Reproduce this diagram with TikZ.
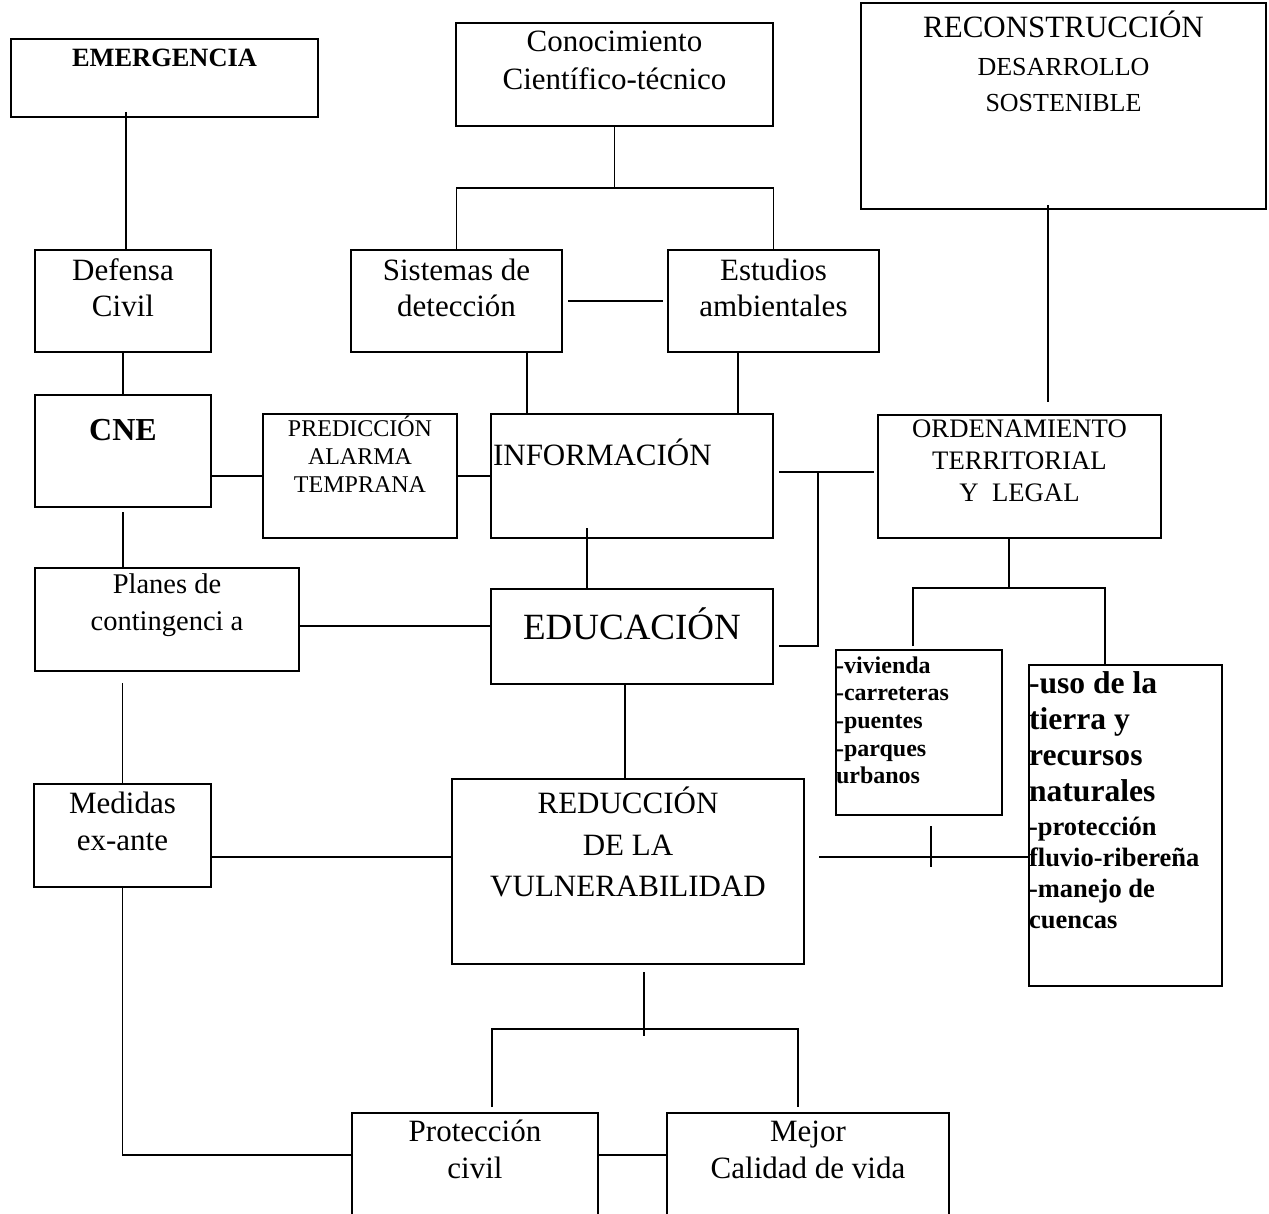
\documentclass[tikz,border=0pt]{standalone}
\usepackage{fontspec}
\setmainfont{Liberation Serif}
\usetikzlibrary{calc,positioning}
\tikzset{
    risk map/.style  = {x=1pt, y=-1pt},
    line/.style      = {line width=1.5pt},
    box/.style 2 args = {draw, line width=2.3pt, inner sep=0pt,
                         minimum width=#1, minimum height=#2},
    txt/.style       = {inner sep=0pt, align=center, anchor=base,
                        font=\fontsize{31}{37}\selectfont},
    listtxt/.style   = {txt, align=left, anchor=base west}
}

\begin{document}
\begin{tikzpicture}[risk map]
\useasboundingbox (0,0) rectangle (1269,1214);
\clip (0,0) rectangle (1269,1214);

% ================= boxes =================
\node[box={307pt}{78pt}]   (emer)     at (164.5,78)    {};
\node[box={317pt}{103pt}]  (conoc)    at (614.5,74.5)  {};
\node[box={405pt}{206pt}]  (recon)    at (1063.5,106)  {};
\node[box={176pt}{102pt}]  (defensa)  at (123,301)     {};
\node[box={211pt}{102pt}]  (sistemas) at (456.5,301)   {};
\node[box={211pt}{102pt}]  (estudios) at (773.5,301)   {};
\node[box={176pt}{112pt}]  (cne)      at (123,451)     {};
\node[box={194pt}{124pt}]  (pred)     at (360,476)     {};
\node[box={282pt}{124pt}]  (info)     at (632,476)     {};
\node[box={283pt}{123pt}]  (orden)    at (1019.5,476.5) {};
\node[box={264pt}{103pt}]  (planes)   at (167,619.5)   {};
\node[box={282pt}{95pt}]   (edu)      at (632,636.5)   {};
\node[box={166pt}{165pt}]  (viv)      at (919,732.5)   {};
\node[box={193pt}{321pt}]  (uso)      at (1125.5,825.5) {};
\node[box={177pt}{103pt}]  (medidas)  at (122.5,835.5) {};
\node[box={352pt}{185pt}]  (reduc)    at (628,871.5)   {};
\node[box={246pt}{127pt}]  (prot)     at (475,1176.5)  {};
\node[box={282pt}{127pt}]  (mejor)    at (808,1176.5)  {};

% ================= texts (anchored on the last line) =================
\node[txt, font=\bfseries\fontsize{26.4}{30}\selectfont] (emer-t) at ([yshift=-29pt]emer.north) {EMERGENCIA};
\node[txt, font=\fontsize{31}{38}\selectfont] (conoc-t) at ([yshift=-68pt]conoc.north) {Conocimiento\\Científico-técnico};
\node[txt] (recon-t) at ([yshift=-36pt]recon.north) {RECONSTRUCCIÓN};
\node[txt, font=\fontsize{26}{36}\selectfont] (recon-s) at ([yshift=-110pt]recon.north) {DESARROLLO\\SOSTENIBLE};
\node[txt, font=\fontsize{31}{36}\selectfont] (defensa-t) at ([yshift=-68pt]defensa.north) {Defensa\\Civil};
\node[txt, font=\fontsize{31}{36}\selectfont] (sistemas-t) at ([yshift=-68pt]sistemas.north) {Sistemas de\\detección};
\node[txt, font=\fontsize{31}{36}\selectfont] (estudios-t) at ([yshift=-68pt]estudios.north) {Estudios\\ambientales};
\node[txt, font=\bfseries\fontsize{32}{37}\selectfont] (cne-t) at ([yshift=-47pt]cne.north) {CNE};
\node[txt, font=\fontsize{24}{28}\selectfont] (pred-t) at ([yshift=-80pt]pred.north) {PREDICCIÓN\\ALARMA\\TEMPRANA};
\node[txt, anchor=base west] (info-t) at ([xshift=3pt,yshift=-53pt]info.north west) {INFORMACIÓN};
\node[txt, font=\fontsize{26.7}{32}\selectfont] (orden-t) at ([yshift=-88pt]orden.north) {ORDENAMIENTO\\TERRITORIAL\\Y\ \ LEGAL};
\node[txt, font=\fontsize{28.5}{37}\selectfont] (planes-t) at ([yshift=-64pt]planes.north) {Planes de\\contingenci a};
\node[txt, font=\fontsize{37}{44}\selectfont] (edu-t) at ([yshift=-52pt]edu.north) {EDUCACIÓN};
\node[listtxt, font=\bfseries\fontsize{24}{27.7}\selectfont] (viv-t) at ([xshift=1pt,yshift=-135pt]viv.north west) {-vivienda\\-carreteras\\-puentes\\-parques\\urbanos};
\node[listtxt, font=\bfseries\fontsize{31.6}{36}\selectfont] (uso-t) at ([xshift=1pt,yshift=-138pt]uso.north west) {-uso de la\\tierra y\\recursos\\naturales};
\node[listtxt, font=\bfseries\fontsize{26.5}{31}\selectfont] (uso-s) at ([xshift=1pt,yshift=-265pt]uso.north west) {-protección\\fluvio-ribereña\\-manejo de\\cuencas};
\node[txt] (medidas-t) at ([yshift=-68pt]medidas.north) {Medidas\\ex-ante};
\node[txt, font=\fontsize{31}{41.5}\selectfont] (reduc-t) at ([yshift=-119pt]reduc.north) {REDUCCIÓN\\DE LA\\VULNERABILIDAD};
\node[txt] (prot-t) at ([yshift=-67pt]prot.north) {Protección\\civil};
\node[txt] (mejor-t) at ([yshift=-67pt]mejor.north) {Mejor\\Calidad de vida};

% ================= left column =================
\coordinate (emer-in) at (126,112);
\draw[line] (emer-in) -- (emer-in |- defensa.north);
\draw[line] (defensa.south) -- (cne.north);
\draw[line] ([yshift=-4pt]cne.south) -- (cne.south |- planes.north);
\draw[line] (cne.east |- pred.west) -- (pred.west);
\draw[line] (pred.east) -- (info.west);
\draw[line, shorten <=11pt] (planes.south -| medidas.north) -- (medidas.north);
\coordinate (pl-edu) at (0,626);
\draw[line] (planes.east |- pl-edu) -- (edu.west |- pl-edu);
\coordinate (md-red) at (0,857);
\draw[line] (medidas.east |- md-red) -- (reduc.west |- md-red);
\coordinate (pm-row) at (0,1155);
\draw[line] (medidas.south) |- (prot.west |- pm-row);
\draw[line] (prot.east |- pm-row) -- (mejor.west |- pm-row);

% ================= centre column =================
\coordinate (kn-split) at (614.5,188);
\draw[line] (conoc.south) -- (kn-split);
\draw[line] (sistemas.north) |- (kn-split) -| (estudios.north);
\draw[line, shorten <=5pt, shorten >=4pt] (sistemas.east) -- (estudios.west);
\draw[line] ([xshift=70.5pt]sistemas.south) -- ([xshift=70.5pt]sistemas.south |- info.north);
\draw[line] ([xshift=-35.5pt]estudios.south) -- ([xshift=-35.5pt]estudios.south |- info.north);
\draw[line] ([xshift=-45pt]edu.north) -- ++(0,-60);
\draw[line] ([xshift=-7pt]edu.south) -- ([xshift=-7pt]edu.south |- reduc.north);
\draw[line] ([xshift=16pt]reduc.south) ++(0,7) -- ++(0,64);
\coordinate (rd-split) at (644,1029);
\coordinate (prot-in) at (492,1107);
\coordinate (mej-in) at (798,1107);
\draw[line] (prot-in) |- (rd-split) -| (mej-in);

% ================= right column =================
\coordinate (ij-top) at (818,472);
\coordinate (ij-bot) at (818,646);
\draw[line] ([xshift=5pt]info.east |- ij-top) -- ([xshift=-3pt]orden.west |- ij-top);
\draw[line] (ij-top) -- (ij-bot) -- ([xshift=5pt]edu.east |- ij-bot);
\draw[line, shorten <=-5pt, shorten >=12pt] ([xshift=-15.5pt]recon.south) -- ([xshift=-15.5pt]recon.south |- orden.north);
\coordinate (ord-split) at (1009,588);
\coordinate (viv-in) at (913,646);
\coordinate (uso-in) at (1105,665);
\draw[line] (orden.south -| ord-split) -- (ord-split);
\draw[line] (viv-in) |- (ord-split) -| (uso-in);
\draw[line] ([xshift=14pt]reduc.east |- md-red) -- (uso.west |- md-red);
\coordinate (tick) at (931,846.5);
\draw[line] ([yshift=20.5pt]tick) -- ([yshift=-20.5pt]tick);

\end{tikzpicture}
\end{document}
